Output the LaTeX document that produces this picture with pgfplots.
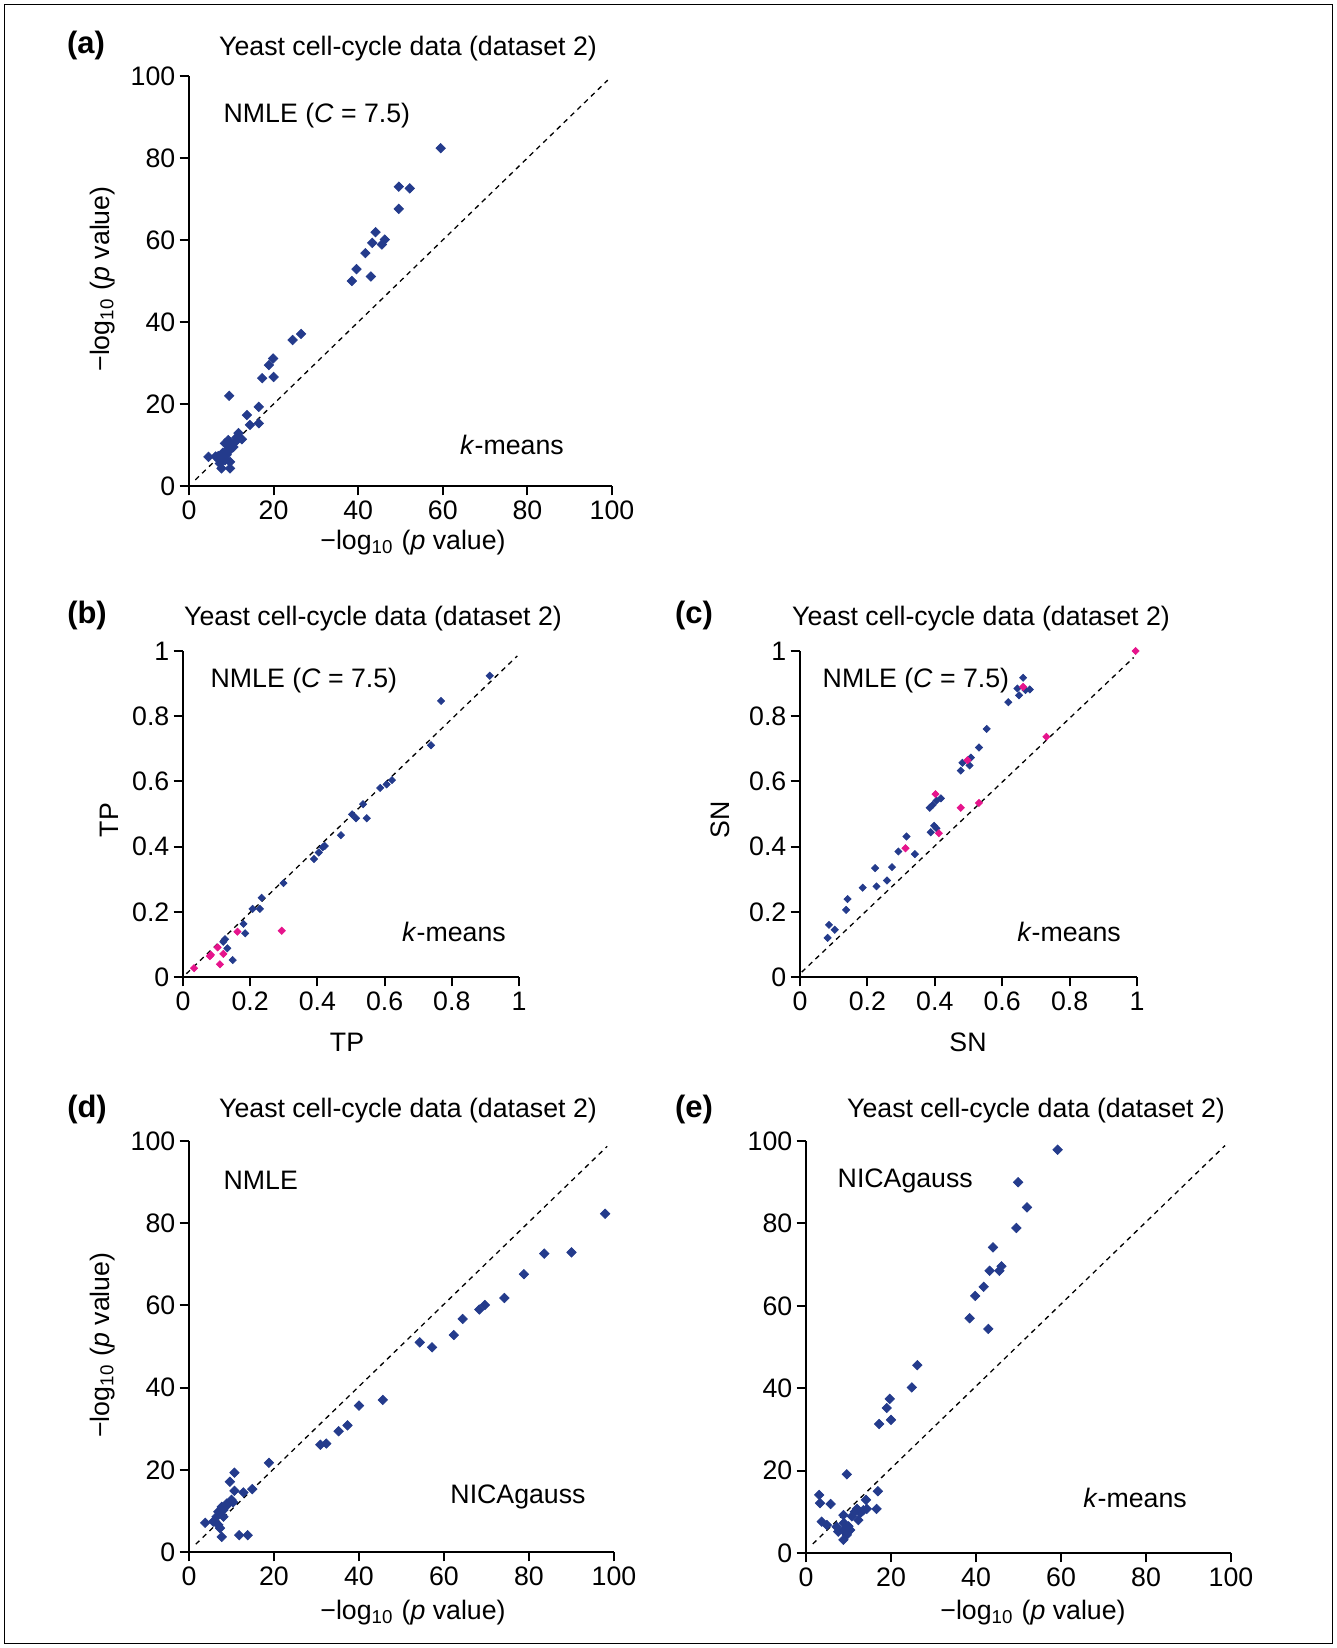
\documentclass[border=0pt]{standalone}
\usepackage{fontspec}
\setmainfont{Liberation Sans}
\usepackage{pgfplots}
\pgfplotsset{compat=1.18}
\definecolor{dotblue}{RGB}{36,59,140}
\definecolor{dotpink}{RGB}{230,20,140}
\newcommand\fs{\fontsize{7.6}{9.1}\selectfont}
\newcommand\fb{\fontsize{8.8}{10}\selectfont\bfseries}
\newcommand\mlogp{\textminus log\textsubscript{10} (\textit{p} value)}

\pgfplotsset{
  panel/.style={
    scale only axis, anchor=south west, clip=false,
    axis lines*=left, axis line style={line width=0.55pt},
    tick align=outside, major tick length=0.93mm,
    tick style={line width=0.55pt, black},
    tick label style={font=\fs},
    xticklabel shift=-0.7mm, yticklabel shift=-0.8mm,
    /pgf/number format/assume math mode=true,
  },
  pct/.style={xmin=0, xmax=100, ymin=0, ymax=100,
    xtick={0,20,...,100}, ytick={0,20,...,100}},
  frac/.style={xmin=0, xmax=1, ymin=0, ymax=1,
    xtick={0,0.2,...,1}, ytick={0,0.2,...,1}},
  big/.style={only marks, color=#1, mark=square*, mark size=0.95pt,
    mark options={rotate=45, draw=#1, fill=#1, line width=0.2pt}},
  small/.style={only marks, color=#1, mark=square*, mark size=0.72pt,
    mark options={rotate=45, draw=#1, fill=#1, line width=0.2pt}},
  diag/.style={black, line width=0.37pt, dash pattern=on 0.5mm off 0.45mm},
}

\begin{document}
\begin{tikzpicture}
\useasboundingbox (0,0) rectangle (133.7mm,-164.8mm);
\draw[line width=0.45pt] (0.45mm,-0.45mm) rectangle (133.25mm,-164.35mm);

% (a)
\begin{axis}[panel, pct, at={(18.9mm,-48.6mm)}, width=42.3mm, height=41.0mm]
\addplot[diag] coordinates {(1.5,1.5) (99,99)};
\addplot[big=dotblue] coordinates {
(59.5,82.4) (49.6,73.0) (52.2,72.6) (49.6,67.6) (44.1,61.9) (43.3,59.3) (45.6,58.9)
(46.3,60.1) (41.7,56.8) (39.6,52.9) (38.5,50.0) (43.0,51.1) (26.5,37.1) (24.5,35.6)
(19.9,31.1) (18.9,29.5) (20.0,26.6) (17.3,26.3) (9.5,22.0) (16.5,19.3) (13.7,17.3)
(14.4,14.9) (16.5,15.3) (11.7,12.9) (12.5,11.4) (11.2,11.8) (9.3,11.2) (8.5,10.4)
(10.0,10.0) (9.7,8.8) (9.2,8.9) (8.9,7.6) (8.0,8.1) (4.6,7.1) (6.9,7.3) (6.3,7.2)
(8.5,6.3) (7.3,5.5) (7.7,4.3) (9.7,4.3) (9.7,5.9) (8.4,6.7) (7.2,6.3) (10.5,9.5) (11.0,10.8)
};
\end{axis}

% (b)
\begin{axis}[panel, frac, at={(18.3mm,-97.7mm)}, width=33.6mm, height=32.6mm]
\addplot[diag] coordinates {(0.01,0.01) (0.995,0.985)};
\addplot[small=dotblue] coordinates {
(0.913,0.924) (0.768,0.847) (0.738,0.711) (0.622,0.604) (0.606,0.591) (0.587,0.580)
(0.536,0.530) (0.503,0.499) (0.515,0.487) (0.547,0.487) (0.470,0.435) (0.422,0.402)
(0.416,0.398) (0.404,0.382) (0.390,0.362) (0.299,0.288) (0.234,0.243) (0.229,0.209)
(0.207,0.209) (0.180,0.163) (0.185,0.134) (0.125,0.116) (0.120,0.108) (0.132,0.088)
(0.148,0.052)
};
\addplot[small=dotpink] coordinates {
(0.033,0.027) (0.080,0.064) (0.083,0.068) (0.103,0.091) (0.120,0.071) (0.110,0.039)
(0.162,0.139) (0.294,0.142)
};
\end{axis}

% (c)
\begin{axis}[panel, frac, at={(80.0mm,-97.7mm)}, width=33.7mm, height=32.6mm]
\addplot[diag] coordinates {(0.005,0.015) (0.99,0.98)};
\addplot[small=dotblue] coordinates {
(0.662,0.918) (0.645,0.885) (0.682,0.882) (0.650,0.864) (0.669,0.880) (0.618,0.843)
(0.554,0.761) (0.531,0.704) (0.507,0.673) (0.503,0.649) (0.482,0.657) (0.477,0.633)
(0.418,0.548) (0.405,0.541) (0.394,0.528) (0.385,0.519) (0.398,0.464) (0.405,0.456)
(0.388,0.444) (0.316,0.431) (0.341,0.377) (0.292,0.385) (0.273,0.337) (0.223,0.334)
(0.258,0.296) (0.227,0.278) (0.186,0.274) (0.141,0.239) (0.137,0.206) (0.086,0.160)
(0.103,0.145) (0.082,0.120)
};
\addplot[small=dotpink] coordinates {
(0.996,1.000) (0.731,0.737) (0.662,0.890) (0.497,0.665) (0.402,0.561) (0.477,0.519)
(0.531,0.534) (0.412,0.441) (0.313,0.395)
};
\end{axis}

% (d)
\begin{axis}[panel, pct, at={(18.9mm,-155.2mm)}, width=42.5mm, height=41.1mm]
\addplot[diag] coordinates {(1.6,1.9) (98.4,98.7)};
\addplot[big=dotblue] coordinates {
(97.9,82.3) (90.0,72.9) (83.6,72.6) (78.8,67.6) (74.2,61.8) (69.6,60.1) (68.3,59.0)
(64.4,56.7) (62.3,52.8) (54.3,51.0) (57.2,49.8) (45.6,37.0) (40.0,35.6) (37.3,30.8)
(35.2,29.4) (32.3,26.4) (30.9,26.1) (18.8,21.7) (10.7,19.3) (9.6,17.1) (10.7,14.9)
(12.8,14.5) (14.9,15.3) (10.0,12.7) (10.4,12.1) (8.9,11.8) (7.7,11.0) (6.9,9.8)
(8.1,10.2) (6.5,8.6) (8.1,8.6) (3.8,7.1) (5.7,7.4) (6.9,6.6) (7.3,5.8) (7.7,3.7)
(11.8,4.1) (13.8,4.1) (9.0,11.4)
};
\end{axis}

% (e)
\begin{axis}[panel, pct, at={(80.6mm,-155.3mm)}, width=42.5mm, height=41.2mm]
\addplot[diag] coordinates {(1.6,2.2) (98.6,98.9)};
\addplot[big=dotblue] coordinates {
(59.2,97.9) (49.9,90.0) (52.0,83.9) (49.5,78.9) (44.0,74.2) (46.0,69.6) (45.5,68.5)
(43.2,68.5) (41.8,64.6) (39.8,62.4) (38.5,57.0) (42.9,54.4) (26.2,45.6) (24.9,40.2)
(19.7,37.4) (19.0,35.2) (20.0,32.3) (17.2,31.3) (9.6,19.1) (16.9,15.0) (3.1,14.1)
(3.3,12.1) (5.8,11.9) (14.1,12.9) (16.6,10.7) (13.5,10.4) (14.3,10.7) (12.0,10.7)
(11.5,10.0) (12.8,9.7) (10.8,8.9) (8.8,9.2) (12.3,8.0) (3.7,7.6) (4.9,6.8) (7.2,6.4)
(8.8,5.6) (9.6,4.4) (8.8,3.2) (10.4,5.6) (7.6,5.2) (8.9,7.3) (10.0,6.5) (9.5,4.8)
};
\end{axis}

\begin{scope}[x=0.1mm, y=-0.1mm, every node/.style={font=\fs, inner sep=0pt}]
% panel letters
\node[font=\fb] at (86,46) {(a)};
\node[font=\fb] at (87,615) {(b)};
\node[font=\fb] at (694,615) {(c)};
\node[font=\fb] at (87,1109) {(d)};
\node[font=\fb] at (694,1109) {(e)};
% titles
\node at (408,49) {Yeast cell-cycle data (dataset 2)};
\node at (373,619) {Yeast cell-cycle data (dataset 2)};
\node at (981,619) {Yeast cell-cycle data (dataset 2)};
\node at (408,1111) {Yeast cell-cycle data (dataset 2)};
\node at (1036,1111) {Yeast cell-cycle data (dataset 2)};
% inside labels
\node[anchor=west] at (223,115.5) {NMLE (\textit{C} = 7.5)};
\node at (512,445) {\textit{k}-means};
\node[anchor=west] at (210,681) {NMLE (\textit{C} = 7.5)};
\node at (454,932) {\textit{k}-means};
\node[anchor=west] at (822,681) {NMLE (\textit{C} = 7.5)};
\node at (1069,932) {\textit{k}-means};
\node[anchor=west] at (223,1180) {NMLE};
\node at (518,1497) {NICAgauss};
\node[anchor=west] at (837,1181) {NICAgauss};
\node at (1135,1498) {\textit{k}-means};
% axis labels
\node at (413,543) {\mlogp};
\node[rotate=90] at (103,279) {\mlogp};
\node at (347,1042) {TP};
\node[rotate=90] at (109,820) {TP};
\node at (968,1042) {SN};
\node[rotate=90] at (720,820) {SN};
\node at (413,1613) {\mlogp};
\node[rotate=90] at (103,1345) {\mlogp};
\node at (1033,1613) {\mlogp};
\end{scope}
\end{tikzpicture}
\end{document}
